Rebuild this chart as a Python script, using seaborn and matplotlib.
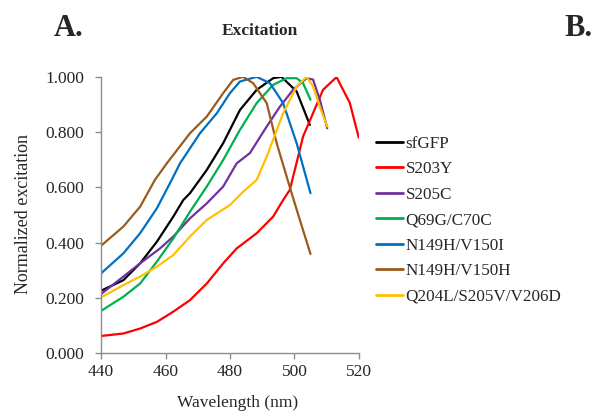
import matplotlib
matplotlib.use("Agg")
import matplotlib.pyplot as plt
import pandas as pd
import seaborn as sns

# values (wavelength nm, normalized excitation)
sfgfp_x = [440, 446.9, 452.1, 457.3, 462.4, 465.5, 467.6, 472.8, 477.9, 483.1, 488.3, 493.4, 496.0, 500.7, 504.8]
sfgfp_y = [0.226, 0.264, 0.325, 0.403, 0.494, 0.554, 0.579, 0.663, 0.760, 0.880, 0.953, 0.995, 1.000, 0.947, 0.826]

s203y_x = [440, 446.9, 452.1, 457.3, 462.4, 467.6, 472.8, 477.9, 482.1, 488.3, 493.4, 496.5, 498.6, 502.7, 508.9, 513.1, 517.2, 520]
s203y_y = [0.062, 0.071, 0.089, 0.113, 0.150, 0.192, 0.252, 0.325, 0.379, 0.434, 0.494, 0.554, 0.591, 0.784, 0.953, 0.999, 0.906, 0.780]

s205c_x = [440, 446.9, 452.1, 458.3, 462.4, 467.6, 472.8, 473.8, 477.9, 482.1, 486.2, 491.4, 495.5, 499.6, 503.8, 505.8, 507.9, 510.2]
s205c_y = [0.214, 0.277, 0.325, 0.379, 0.422, 0.488, 0.542, 0.554, 0.603, 0.687, 0.724, 0.820, 0.892, 0.953, 0.995, 0.990, 0.917, 0.814]

q69g_x = [440, 446.9, 452.1, 457.3, 462.4, 467.6, 472.8, 477.9, 483.1, 488.3, 493.4, 497.6, 500.7, 502.7, 505.0]
q69g_y = [0.153, 0.204, 0.252, 0.331, 0.415, 0.512, 0.603, 0.699, 0.808, 0.905, 0.971, 0.995, 0.995, 0.977, 0.917]

n149h_i_x = [440, 446.9, 452.1, 457.3, 461.9, 464.5, 470.7, 475.9, 480.0, 483.1, 488.3, 492.4, 496.5, 500.7, 505.0]
n149h_i_y = [0.289, 0.361, 0.434, 0.524, 0.627, 0.687, 0.796, 0.868, 0.941, 0.983, 1.000, 0.977, 0.905, 0.760, 0.579]

n149h_h_x = [440, 446.9, 452.1, 456.7, 460.4, 467.6, 472.8, 477.9, 481.0, 484.1, 487.2, 491.4, 494.5, 498.6, 501.7, 505.0]
n149h_h_y = [0.389, 0.458, 0.530, 0.627, 0.687, 0.796, 0.856, 0.941, 0.989, 1.000, 0.977, 0.905, 0.760, 0.600, 0.482, 0.359]

q204l_x = [440, 446.9, 452.1, 457.3, 462.4, 467.6, 472.8, 480.0, 484.1, 488.3, 491.4, 496.5, 500.7, 503.8, 505.8, 507.9, 510.2]
q204l_y = [0.202, 0.246, 0.277, 0.313, 0.355, 0.422, 0.482, 0.536, 0.584, 0.627, 0.711, 0.868, 0.965, 1.000, 0.965, 0.892, 0.820]

names = ["sfGFP", "S203Y", "S205C", "Q69G/C70C", "N149H/V150I", "N149H/V150H", "Q204L/S205V/V206D"]
colors = ["#000000", "#FF0000", "#7030A0", "#00B050", "#0070C0", "#9A5B1E", "#FFC000"]
series = [(sfgfp_x, sfgfp_y), (s203y_x, s203y_y), (s205c_x, s205c_y), (q69g_x, q69g_y),
          (n149h_i_x, n149h_i_y), (n149h_h_x, n149h_h_y), (q204l_x, q204l_y)]
yticks = [0, 0.2, 0.4, 0.6, 0.8, 1.0]

rows = []
for name, (xs, ys) in zip(names, series):
    for x, y in zip(xs, ys):
        rows.append({"wl": x, "val": y, "variant": name})
df = pd.DataFrame(rows)

sns.set_style("white")
plt.rcParams["font.family"] = ["Liberation Serif", "DejaVu Serif"]

fig = plt.figure(figsize=(5.95, 4.13), dpi=100)
ax = fig.add_axes([0.170, 0.145, 0.433, 0.669])

sns.lineplot(data=df, x="wl", y="val", hue="variant", hue_order=names,
             palette=dict(zip(names, colors)), linewidth=1.6, sort=False,
             estimator=None, ax=ax)

ax.set_xlim(440, 520)
ax.set_ylim(0, 1.0)
ax.set_xticks(range(440, 521, 20))
ax.set_yticks(yticks)
ax.set_yticklabels([f"{v:.3f}" for v in yticks])
ax.tick_params(axis="both", labelsize=12.5, length=4, width=1, color="#8c8c8c",
               direction="out", left=True, bottom=True)
ax.tick_params(axis="y", pad=8)
for s in ["top", "right"]:
    ax.spines[s].set_visible(False)
for s in ["left", "bottom"]:
    ax.spines[s].set_color("#8c8c8c")
    ax.spines[s].set_linewidth(1)

ax.set_xlabel("Wavelength (nm)", fontsize=12.5)
ax.set_ylabel("Normalized excitation", fontsize=13)
ax.xaxis.set_label_coords(0.531, -0.152)
ax.yaxis.set_label_coords(-0.27, 0.504)

leg = ax.legend(loc="upper left", bbox_to_anchor=(1.042, 0.812), frameon=False,
                fontsize=12.3, handlelength=1.55, handletextpad=0.15,
                labelspacing=0.56, borderaxespad=0)
for line in leg.get_lines():
    line.set_linewidth(2)

fig.text(0.437, 0.925, "Excitation", ha="center", va="center", fontsize=12.5, fontweight="bold")
fig.text(0.116, 0.93, "A.", ha="center", va="center", fontsize=22, fontweight="bold")
fig.text(0.973, 0.93, "B.", ha="center", va="center", fontsize=22, fontweight="bold")

fig.savefig("out.png", dpi=100)
